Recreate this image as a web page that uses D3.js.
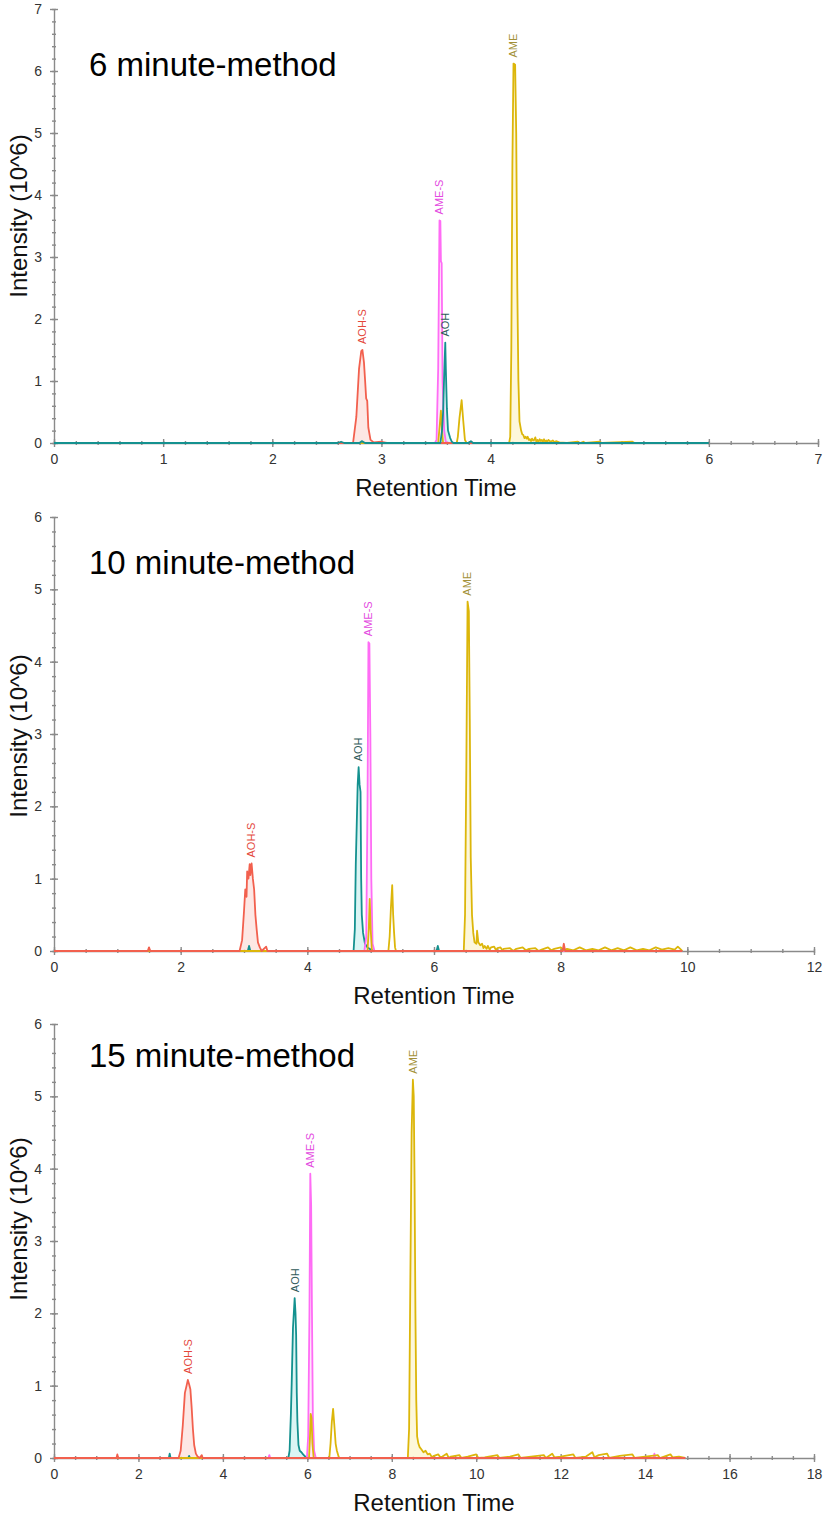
<!DOCTYPE html>
<html>
<head>
<meta charset="utf-8">
<title></title>
<script src="https://cdn.jsdelivr.net/npm/d3@7"></script>
<style>
  body { margin: 0; background: #fff; font-family: "Liberation Sans", Arial, sans-serif; }
  .axis path, .axis line { stroke: #8a8a8a; stroke-width: 1.4; }
  .axis text { font-size: 14px; fill: #333; font-family: "Liberation Sans", Arial, sans-serif; }
  .trace { fill: none; stroke-width: 1.8; stroke-linejoin: round; }
</style>
</head>
<body>
<script>
// ---- data -------------------------------------------------------------
const methodTitles = ["6 minute-method", "10 minute-method", "15 minute-method"]
const xMaxes = [7, 12, 18]
const yMaxes = [7, 6, 6]
const xMajorSteps = [1, 2, 2]
const xMinorSteps = [0.2, 0.5, 0.5]
const yMinorStep = 0.2
const xTitle = "Retention Time"
const yTitle = "Intensity (10^6)"
const compounds = ["AOH-S", "AOH", "AME-S", "AME"]

// [retention time (min), intensity (10^6)]
// 6 minute method
const aohS_6 = [[0,0],[2.74,0],[2.77,0.42],[2.795,1.2],[2.815,1.48],[2.826,1.5],[2.84,1.3],[2.85,1.02],[2.86,0.72],[2.87,0.68],[2.88,0.25],[2.9,0.05],[2.93,0.01],[3.0,0.02],[3.05,0],[6,0]]
const aoh_6 = [[0,0],[2.6,0],[2.63,0.02],[2.66,0],[2.8,0],[2.82,0.03],[2.85,0],[3.54,0],[3.555,0.2],[3.565,0.5],[3.575,1.1],[3.585,1.62],[3.59,1.2],[3.6,0.55],[3.61,0.2],[3.62,0.14],[3.63,0.08],[3.645,0.02],[3.66,0],[3.8,0],[3.82,0.03],[3.84,0],[6,0]]
const ameS_6 = [[0,0],[3.49,0],[3.505,0.05],[3.52,1.2],[3.532,3.59],[3.54,3.58],[3.545,2.93],[3.552,2.9],[3.56,1.0],[3.575,0.2],[3.59,0.02],[3.62,0],[6,0]]
const ame_6 = [[0,0],[3.52,0],[3.535,0.3],[3.545,0.52],[3.555,0.2],[3.565,0],[3.69,0],[3.7,0.1],[3.715,0.4],[3.735,0.69],[3.75,0.35],[3.765,0.05],[3.78,0],[4.17,0],[4.18,0.1],[4.19,1.5],[4.2,4.5],[4.21,6.12],[4.225,6.1],[4.235,5.0],[4.245,2.5],[4.255,1.0],[4.265,0.35],[4.28,0.2],[4.29,0.14],[4.3,0.13],[4.31,0.08],[4.32,0.1],[4.33,0.07],[4.34,0.1],[4.35,0.05],[4.36,0.06],[4.37,0.03],[4.38,0.07],[4.39,0.04],[4.4,0.05],[4.41,0.09],[4.42,0.02],[4.43,0.05],[4.44,0.02],[4.45,0.06],[4.46,0.03],[4.47,0.05],[4.48,0.02],[4.49,0.06],[4.5,0.02],[4.51,0.04],[4.52,0.02],[4.53,0.05],[4.55,0.02],[4.57,0.04],[4.59,0.01],[4.6,0.03],[4.63,0.01],[4.7,0],[4.8,0.02],[4.82,0],[4.85,0.02],[4.87,0],[5.0,0.02],[5.02,0],[5.3,0.02],[5.32,0],[6,0]]
const windows_6 = [[2.74,2.95],[3.54,3.66],[3.49,3.62],[4.17,4.6]]

// 10 minute method
const aohS_10 = [[0,0],[1.48,0],[1.5,0.05],[1.52,0],[2.93,0],[2.97,0.15],[3.0,0.55],[3.02,0.85],[3.04,0.75],[3.05,1.1],[3.07,1.0],[3.09,1.2],[3.1,1.05],[3.12,1.21],[3.14,1.0],[3.16,0.85],[3.18,0.5],[3.2,0.3],[3.22,0.12],[3.25,0.05],[3.28,0],[3.35,0.06],[3.37,0],[8.03,0],[8.05,0.1],[8.07,0],[9.92,0]]
const aoh_10 = [[0,0],[3.06,0],[3.08,0.07],[3.1,0],[4.73,0],[4.75,0.3],[4.765,1.2],[4.78,1.75],[4.795,2.3],[4.81,2.54],[4.825,2.3],[4.84,2.2],[4.85,1.0],[4.86,0.5],[4.88,0.25],[4.91,0.1],[4.95,0.05],[5.0,0.02],[5.05,0],[6.04,0],[6.06,0.07],[6.08,0],[9.92,0]]
const ameS_10 = [[0,0],[4.9,0],[4.93,0.2],[4.95,2.0],[4.965,4.27],[4.98,4.25],[4.995,3.0],[5.01,1.0],[5.03,0.1],[5.06,0],[9.92,0]]
const ame_10 = [[0,0],[4.95,0],[4.97,0.3],[4.985,0.72],[5.0,0.3],[5.02,0],[5.28,0],[5.3,0.2],[5.32,0.6],[5.34,0.91],[5.355,0.5],[5.37,0.25],[5.385,0.05],[5.4,0],[6.47,0],[6.49,0.5],[6.51,2.5],[6.53,4.83],[6.55,4.7],[6.565,3.2],[6.58,1.3],[6.6,0.5],[6.62,0.25],[6.64,0.12],[6.67,0.1],[6.68,0.28],[6.7,0.12],[6.73,0.08],[6.76,0.1],[6.78,0.04],[6.8,0.07],[6.83,0.03],[6.85,0.07],[6.88,0.02],[6.9,0.05],[6.95,0.06],[6.98,0.01],[7.0,0.04],[7.05,0.05],[7.08,0.01],[7.1,0.03],[7.2,0.04],[7.25,0],[7.3,0.03],[7.4,0.05],[7.45,0.01],[7.5,0.03],[7.6,0.04],[7.65,0],[7.7,0.02],[7.8,0.05],[7.85,0.01],[7.9,0.03],[8.0,0.05],[8.05,0.01],[8.1,0.03],[8.2,0.01],[8.3,0.05],[8.4,0.01],[8.5,0.03],[8.6,0.01],[8.7,0.05],[8.8,0.01],[8.9,0.04],[9.0,0.01],[9.1,0.05],[9.2,0.01],[9.3,0.03],[9.4,0.01],[9.5,0.05],[9.6,0.02],[9.7,0.04],[9.8,0.02],[9.85,0.06],[9.9,0.02],[9.92,0]]
const windows_10 = [[2.93,3.3],[4.73,5.05],[4.9,5.06],[6.47,6.9]]

// 15 minute method
const aohS_15 = [[0,0],[1.48,0],[1.5,0.05],[1.52,0],[2.95,0],[3.0,0.1],[3.05,0.45],[3.1,0.9],[3.14,1.0],[3.17,1.08],[3.2,1.02],[3.23,0.95],[3.26,0.7],[3.29,0.4],[3.32,0.18],[3.36,0.06],[3.4,0.02],[3.45,0],[3.5,0.04],[3.52,0],[14.95,0]]
const aoh_15 = [[0,0],[2.72,0],[2.74,0.06],[2.76,0],[3.18,0],[3.2,0.03],[3.22,0],[5.55,0],[5.58,0.1],[5.61,0.6],[5.63,1.04],[5.66,1.8],[5.7,2.21],[5.72,2.0],[5.735,1.7],[5.75,0.9],[5.765,0.5],[5.79,0.18],[5.82,0.1],[5.86,0.08],[5.9,0.05],[5.95,0.02],[6.0,0],[14.95,0]]
const ameS_15 = [[0,0],[5.08,0],[5.1,0.04],[5.12,0],[5.99,0],[6.02,0.3],[6.05,2.0],[6.07,3.93],[6.09,3.5],[6.11,2.0],[6.13,0.6],[6.16,0.1],[6.2,0],[14.2,0],[14.22,0.06],[14.24,0],[14.95,0]]
const ame_15 = [[0,0],[6.04,0],[6.06,0.25],[6.08,0.61],[6.1,0.55],[6.12,0.2],[6.15,0],[6.52,0],[6.55,0.2],[6.58,0.5],[6.61,0.68],[6.64,0.45],[6.67,0.2],[6.7,0.1],[6.74,0.02],[6.76,0],[8.38,0],[8.41,0.4],[8.44,2.5],[8.47,4.5],[8.5,5.23],[8.52,5.0],[8.54,3.8],[8.56,2.0],[8.58,0.8],[8.6,0.3],[8.63,0.2],[8.66,0.15],[8.7,0.12],[8.75,0.08],[8.8,0.1],[8.85,0.05],[8.9,0.06],[8.95,0.01],[9.0,0.03],[9.1,0.05],[9.15,0.01],[9.2,0.02],[9.3,0.06],[9.35,0],[9.4,0.02],[9.6,0.04],[9.65,0],[9.8,0.02],[10.0,0.05],[10.05,0],[10.2,0.01],[10.5,0.04],[10.55,0],[10.8,0.02],[11.0,0.05],[11.05,0],[11.3,0.02],[11.6,0.04],[11.65,0],[11.8,0.06],[11.85,0.01],[12.0,0.02],[12.3,0.05],[12.35,0],[12.6,0.02],[12.75,0.08],[12.8,0.01],[12.9,0.04],[13.1,0.06],[13.15,0],[13.4,0.03],[13.7,0.05],[13.75,0],[14.0,0.02],[14.3,0.04],[14.35,0],[14.6,0.05],[14.65,0.01],[14.8,0.02],[14.95,0]]
const windows_15 = [[2.95,3.45],[5.55,6.0],[5.99,6.2],[8.38,8.9]]

// ---- layout / styles --------------------------------------------------
const W = 823, H = 1515
const left = 54
const rights = [818, 814, 814]
const panelTops = [9, 517, 1024]
const plotH = 434
const titleBaselines = [76, 574, 1067]
const yTitleCenters = [216, 736, 1219]

const lineColor = { "AOH-S": "#f2604e", "AOH": "#14918f", "AME-S": "#ff6cf5", "AME": "#dcb60a" }
const fillColor = { "AOH-S": "#fde3df", "AOH": "#d3f3f2", "AME-S": "#ffe0fb", "AME": "#fdf6d4" }
const labelColor = { "AOH-S": "#e4473a", "AOH": "#2f5a5a", "AME-S": "#e349e0", "AME": "#a39138" }

const panels = [
  { series: { "AOH-S": aohS_6, "AOH": aoh_6, "AME-S": ameS_6, "AME": ame_6 }, windows: windows_6,
    order: ["AME-S", "AME", "AOH-S", "AOH"] },
  { series: { "AOH-S": aohS_10, "AOH": aoh_10, "AME-S": ameS_10, "AME": ame_10 }, windows: windows_10,
    order: ["AOH", "AME-S", "AME", "AOH-S"] },
  { series: { "AOH-S": aohS_15, "AOH": aoh_15, "AME-S": ameS_15, "AME": ame_15 }, windows: windows_15,
    order: ["AOH", "AME-S", "AME", "AOH-S"] }
]

const svg = d3.select("body").append("svg")
  .attr("width", W)
  .attr("height", H)

panels.forEach(function (p, i) {
  const top = panelTops[i], bottom = top + plotH
  const right = rights[i]
  const x = d3.scaleLinear().domain([0, xMaxes[i]]).range([left, right])
  const y = d3.scaleLinear().domain([0, yMaxes[i]]).range([bottom, top])
  const g = svg.append("g")

  // minor ticks
  const xMinor = d3.range(0, xMaxes[i] + 1e-9, xMinorSteps[i])
  const yMinor = d3.range(0, yMaxes[i] + 1e-9, yMinorStep)
  g.append("g").attr("class", "axis")
    .attr("transform", "translate(0," + bottom + ")")
    .call(d3.axisBottom(x).tickValues(xMinor).tickSize(2).tickFormat(""))
    .call(a => a.selectAll(".tick line").attr("y1", -2))
    .call(a => a.select(".domain").remove())
  g.append("g").attr("class", "axis")
    .attr("transform", "translate(" + left + ",0)")
    .call(d3.axisLeft(y).tickValues(yMinor).tickSize(2).tickFormat(""))
    .call(a => a.selectAll(".tick line").attr("x1", 2))
    .call(a => a.select(".domain").remove())

  // major axes
  g.append("g").attr("class", "axis")
    .attr("transform", "translate(0," + bottom + ")")
    .call(d3.axisBottom(x).tickValues(d3.range(0, xMaxes[i] + 1e-9, xMajorSteps[i]))
      .tickSize(4).tickSizeOuter(0).tickPadding(7).tickFormat(d3.format("d")))
    .call(a => a.selectAll(".tick line").attr("y1", -4))
  g.append("g").attr("class", "axis")
    .attr("transform", "translate(" + left + ",0)")
    .call(d3.axisLeft(y).tickValues(d3.range(0, yMaxes[i] + 1e-9, 1))
      .tickSize(4).tickSizeOuter(0).tickPadding(8).tickFormat(d3.format("d")))
    .call(a => a.selectAll(".tick line").attr("x1", 4))

  // filled peak areas
  p.order.forEach(function (name) {
    const w = p.windows[compounds.indexOf(name)]
    const area = d3.area()
      .defined(d => d[0] >= w[0] && d[0] <= w[1])
      .x(d => x(d[0])).y0(y(0)).y1(d => y(d[1]))
    g.append("path")
      .datum(p.series[name])
      .attr("d", area)
      .attr("fill", fillColor[name])
      .attr("opacity", 0.85)
  })

  // traces
  const line = d3.line().x(d => x(d[0])).y(d => y(d[1]))
  p.order.forEach(function (name) {
    g.append("path")
      .datum(p.series[name])
      .attr("class", "trace")
      .attr("d", line)
      .attr("stroke", lineColor[name])
  })

  // peak labels
  compounds.forEach(function (name) {
    const peak = d3.greatest(p.series[name], d => d[1])
    const px = x(peak[0]), py = y(peak[1]) - 6
    g.append("text")
      .attr("transform", "translate(" + px + "," + py + ") rotate(-90)")
      .attr("dy", "0.35em")
      .attr("font-size", "11px")
      .attr("fill", labelColor[name])
      .text(name)
  })

  // method title
  g.append("text")
    .attr("x", 89)
    .attr("y", titleBaselines[i])
    .attr("font-size", "33px")
    .attr("fill", "#000")
    .text(methodTitles[i])

  // axis titles
  g.append("text")
    .attr("x", (left + right) / 2)
    .attr("y", bottom + 45)
    .attr("dy", "0.35em")
    .attr("text-anchor", "middle")
    .attr("font-size", "24px")
    .attr("fill", "#111")
    .text(xTitle)
  g.append("text")
    .attr("transform", "translate(19," + yTitleCenters[i] + ") rotate(-90)")
    .attr("dy", "0.35em")
    .attr("text-anchor", "middle")
    .attr("font-size", "24px")
    .attr("fill", "#111")
    .text(yTitle)
})
</script>
</body>
</html>
